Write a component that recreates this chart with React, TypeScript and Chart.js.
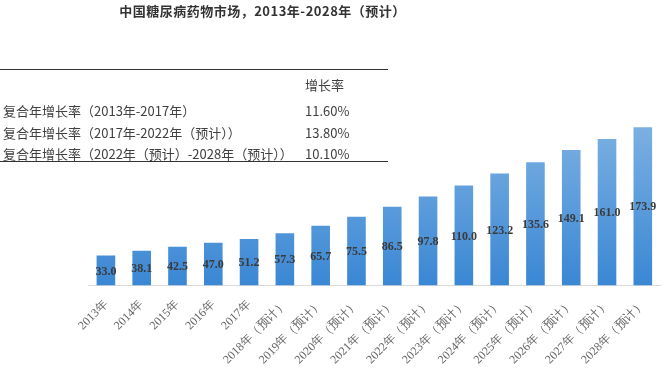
import React, { useEffect, useRef } from "react";
import { Chart, registerables } from "chart.js";

Chart.register(...registerables);

const categories = [
  "2013年", "2014年", "2015年", "2016年", "2017年",
  "2018年（预计）", "2019年（预计）", "2020年（预计）", "2021年（预计）",
  "2022年（预计）", "2023年（预计）", "2024年（预计）", "2025年（预计）",
  "2026年（预计）", "2027年（预计）", "2028年（预计）",
];
const marketValues = [33.0, 38.1, 42.5, 47.0, 51.2, 57.3, 65.7, 75.5, 86.5, 97.8, 110.0, 123.2, 135.6, 149.1, 161.0, 173.9];

const title = "中国糖尿病药物市场，2013年-2028年（预计）";
const tableHeader = "增长率";
const cagrLabels = [
  "复合年增长率（2013年-2017年）",
  "复合年增长率（2017年-2022年（预计））",
  "复合年增长率（2022年（预计）-2028年（预计））",
];
const cagrValues = ["11.60%", "13.80%", "10.10%"];

const valueLabelPlugin = {
  id: "valueLabels",
  afterDatasetsDraw(chart: any) {
    const ctx = chart.ctx;
    const meta = chart.getDatasetMeta(0);
    ctx.save();
    ctx.font = "bold 12px 'Liberation Serif', 'Times New Roman', serif";
    ctx.fillStyle = "#3a3a3a";
    ctx.textAlign = "center";
    ctx.textBaseline = "middle";
    meta.data.forEach((bar: any, i: number) => {
      const v = chart.data.datasets[0].data[i];
      ctx.fillText(Number(v).toFixed(1), bar.x, (bar.y + bar.base) / 2 + 1);
    });
    ctx.restore();
  },
};

export default function App() {
  const ref = useRef<HTMLCanvasElement>(null);
  useEffect(() => {
    document.body.style.margin = "0";
    const canvas = ref.current!;
    const chart = new Chart(canvas, {
      type: "bar",
      data: {
        labels: categories,
        datasets: [
          {
            data: marketValues,
            backgroundColor: (c: any) => {
              const area = c.chart.chartArea;
              if (!area) return "#4a90d9";
              const g = c.chart.ctx.createLinearGradient(0, area.bottom - 160, 0, area.bottom);
              g.addColorStop(0, "#7cb0e2");
              g.addColorStop(1, "#3a87d4");
              return g;
            },
            borderWidth: 0,
            categoryPercentage: 1,
            barPercentage: 0.52,
          },
        ],
      },
      options: {
        animation: false,
        responsive: false,
        maintainAspectRatio: false,
        layout: { padding: { left: 88, right: 0, top: 40, bottom: 3 } },
        plugins: { legend: { display: false }, title: { display: false }, tooltip: { enabled: false } },
        scales: {
          x: {
            grid: { display: false, drawTicks: false },
            border: { display: true, color: "#d9d9d9", width: 1 },
            ticks: {
              autoSkip: false,
              maxRotation: 45,
              minRotation: 45,
              padding: 12,
              color: "#666666",
              font: { family: "'Liberation Serif', 'Times New Roman', serif", size: 12 },
            },
          },
          y: {
            display: false,
            min: 0,
            max: 270,
          },
        },
      },
      plugins: [valueLabelPlugin],
    });
    return () => chart.destroy();
  }, []);

  const textStyle: React.CSSProperties = {
    position: "absolute",
    fontFamily: "'Noto Sans CJK SC', sans-serif",
    fontSize: 13,
    color: "#404040",
    whiteSpace: "nowrap",
    lineHeight: "14px",
  };

  return (
    <div style={{ position: "relative", width: 665, height: 382, background: "#fff", overflow: "hidden" }}>
      <canvas ref={ref} width={665} height={382} style={{ position: "absolute", left: 0, top: 0 }} />
      <div
        style={{
          position: "absolute",
          left: 0,
          width: 525,
          top: 3,
          textAlign: "center",
          fontFamily: "'Noto Sans CJK SC', sans-serif",
          fontWeight: "bold",
          fontSize: 13,
          letterSpacing: 0.5,
          color: "#333",
          lineHeight: "16px",
        }}
      >
        {title}
      </div>
      <div style={{ position: "absolute", left: 0, top: 69, width: 388, height: 0, borderTop: "1.5px solid #333" }} />
      <div style={{ position: "absolute", left: 0, top: 161, width: 388, height: 0, borderTop: "1.5px solid #333" }} />
      <div style={{ ...textStyle, left: 305, top: 78 }}>{tableHeader}</div>
      {cagrLabels.map((l, i) => (
        <div key={"l" + i} style={{ ...textStyle, left: 3, top: [104, 126, 147][i] }}>{l}</div>
      ))}
      {cagrValues.map((v, i) => (
        <div key={"v" + i} style={{ ...textStyle, left: 305, top: [104, 126, 147][i] }}>{v}</div>
      ))}
    </div>
  );
}
